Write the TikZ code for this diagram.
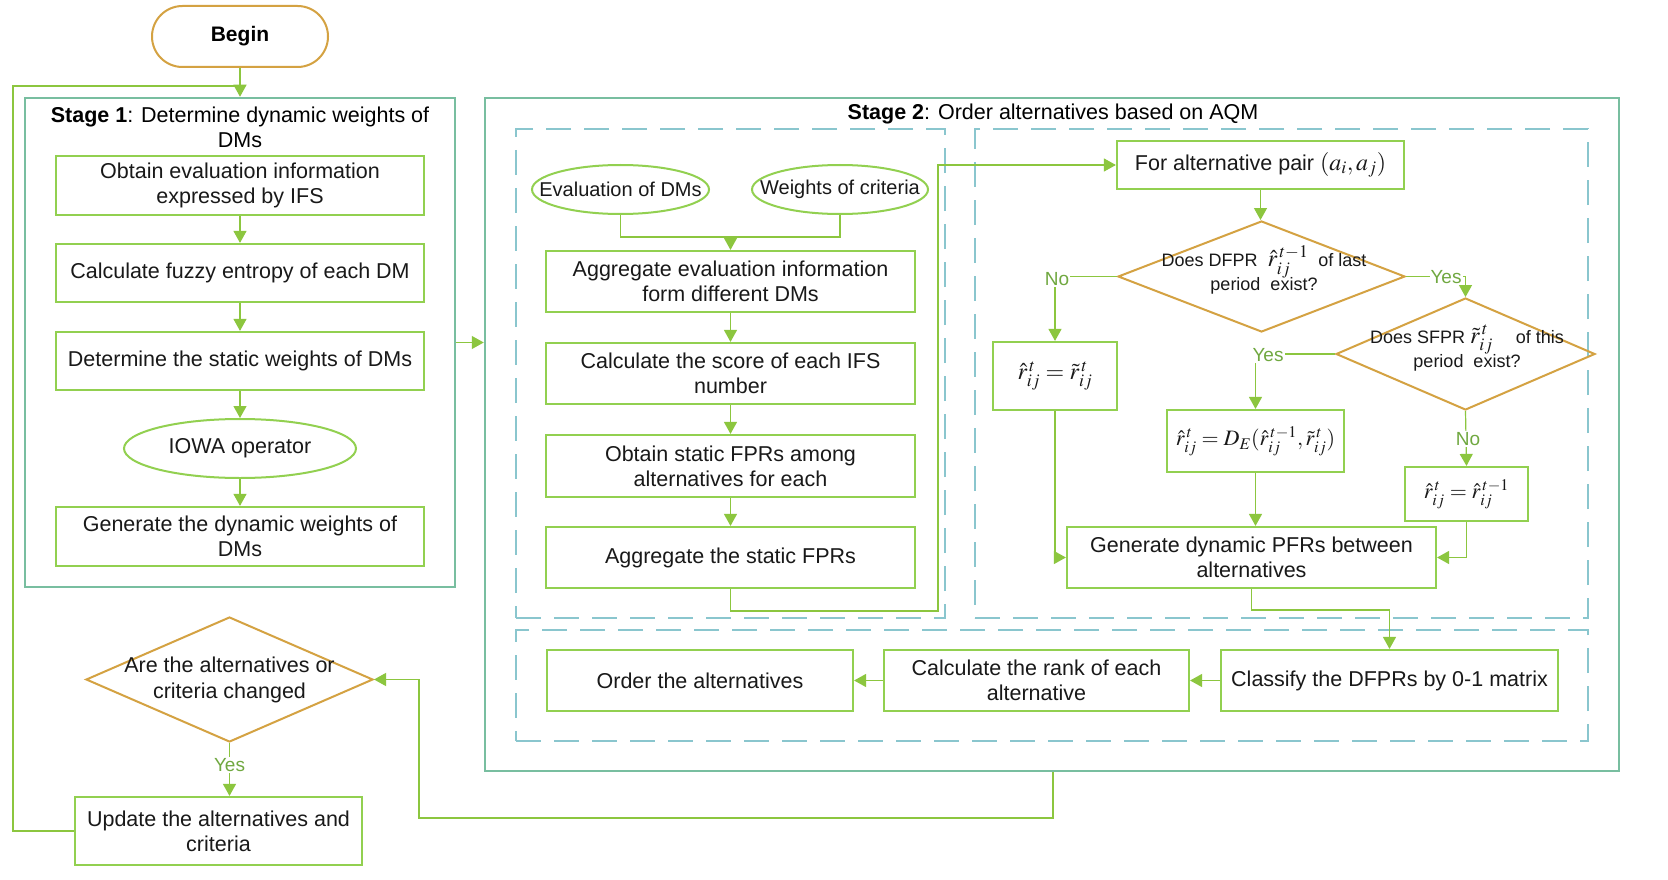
\documentclass[tikz,border=0pt]{standalone}
\usepackage{mathptmx}
\usepackage{fontspec}
\setmainfont{Liberation Sans}
\usetikzlibrary{shapes.geometric,arrows.meta}
\definecolor{boxgreen}{RGB}{146,208,80}
\definecolor{linegreen}{RGB}{140,198,63}
\definecolor{stageteal}{RGB}{120,190,160}
\definecolor{dashblue}{RGB}{138,198,206}
\definecolor{decorange}{RGB}{212,162,66}
\definecolor{labelgreen}{RGB}{112,168,64}
\newcommand{\bigmath}{\fontsize{24}{28}\selectfont}
\newcommand{\midmath}{\fontsize{22}{26}\selectfont}
\tikzset{
  proc/.style={draw=boxgreen, line width=2.2pt, rectangle, inner sep=2pt, align=center, text=black!90, font=\fontsize{21.5}{25}\selectfont},
  dec/.style={draw=decorange, line width=2pt, diamond, inner sep=0pt},
  dectext/.style={align=center, text=black!90, inner sep=0pt},
  oval/.style={draw=boxgreen, line width=2pt, ellipse, inner sep=0pt},
  conn/.style={draw=linegreen, line width=1.2pt},
  arr/.style={conn, -{Triangle[length=12pt,width=13pt]}},
  stage/.style={draw=stageteal, line width=2.5pt, rectangle, inner sep=0pt},
  dashbox/.style={draw=dashblue, line width=2pt, dash pattern=on 25pt off 13pt, rectangle, inner sep=0pt},
  lab/.style={text=labelgreen, fill=white, inner sep=1pt, font=\fontsize{19}{22}\selectfont},
}
\begin{document}
\begin{tikzpicture}[x=1pt,y=-1pt]
\fill[white] (0,0) rectangle (1668,880);
\useasboundingbox (0,0) rectangle (1668,880);

% ---------- Stage 1 ----------
\node[draw=decorange, line width=2pt, rectangle, rounded corners=30.5pt, minimum width=176pt, minimum height=61pt, font=\fontsize{21}{25}\selectfont\bfseries] (begin) at (240,36.5) {Begin};
\node[stage, minimum width=430pt, minimum height=489pt] (s1) at (240,342.5) {};
\node[align=center, font=\fontsize{21.5}{25}\selectfont, inner sep=0pt] (s1t) at (240,127.5) {\textbf{Stage 1}: Determine dynamic weights of\\DMs};
\node[proc, minimum width=368pt, minimum height=59pt] (b1) at (240,185.5) {Obtain evaluation information\\expressed by IFS};
\node[proc, minimum width=368pt, minimum height=58pt] (b2) at (240,273) {Calculate fuzzy entropy of each DM};
\node[proc, minimum width=368pt, minimum height=58pt] (b3) at (240,361) {Determine the static weights of DMs};
\node[oval, minimum width=232pt, minimum height=59pt] (iowa) at (240,448.5) {};
\node[dectext, font=\fontsize{21.5}{25}\selectfont] (iowat) at (iowa) {IOWA operator};
\node[proc, minimum width=368pt, minimum height=59pt] (b4) at (240,536.5) {Generate the dynamic weights of\\DMs};

\node[dec, minimum width=287pt, minimum height=125pt] (chg) at (229.5,679.5) {};
\node[dectext, font=\fontsize{21.5}{26}\selectfont] (chgt) at (229.5,680) {Are the alternatives or\\criteria changed};
\node[proc, minimum width=287pt, minimum height=68pt] (upd) at (218.5,831) {Update the alternatives and\\criteria};

% ---------- Stage 2 ----------
\node[stage, minimum width=1134pt, minimum height=673pt] (s2) at (1052,434.5) {};
\node[font=\fontsize{21.5}{25}\selectfont, inner sep=0pt] (s2t) at (1053,114) {\textbf{Stage 2}: Order alternatives based on AQM};
\node[dashbox, minimum width=429pt, minimum height=489pt] (dA) at (730.5,373.5) {};
\node[dashbox, minimum width=613pt, minimum height=489pt] (dB) at (1281.5,373.5) {};
\node[dashbox, minimum width=1072pt, minimum height=111pt] (dC) at (1052,685.5) {};

\node[oval, minimum width=177pt, minimum height=49pt] (ev) at (620.5,189.5) {};
\node[dectext, font=\fontsize{20}{24}\selectfont] (evt) at (ev) {Evaluation of DMs};
\node[oval, minimum width=176pt, minimum height=49pt] (wc) at (840,189.5) {};
\node[dectext, font=\fontsize{20}{24}\selectfont] (wct) at (wc) {Weights of criteria};

\node[proc, minimum width=369pt, minimum height=61pt] (a1) at (730.5,281.5) {Aggregate evaluation information\\form different DMs};
\node[proc, minimum width=369pt, minimum height=61pt] (a2) at (730.5,373.5) {Calculate the score of each IFS\\number};
\node[proc, minimum width=369pt, minimum height=62pt] (a3) at (730.5,466) {Obtain static FPRs among\\alternatives for each};
\node[proc, minimum width=369pt, minimum height=61pt] (a4) at (730.5,557.5) {Aggregate the static FPRs};

\node[proc, minimum width=287pt, minimum height=48pt] (pair) at (1260.5,165) {For alternative pair {\bigmath$(a_i,a_j)$}};
\node[dec, minimum width=287pt, minimum height=111pt] (d1) at (1261.5,276.5) {};
\node[dectext, font=\fontsize{18}{24}\selectfont] (d1t) at (1264,270) {Does DFPR \ {\bigmath$\hat r_{ij}^{\,t-1}$} \ of last\\period\ \ exist?};
\node[dec, minimum width=259pt, minimum height=112pt] (d2) at (1465.5,354) {};
\node[dectext, font=\fontsize{18}{24}\selectfont] (d2t) at (1467,348) {Does SFPR {\bigmath$\tilde r_{ij}^{\,t}$} \quad of this\\period\ \ exist?};

\node[proc, minimum width=124pt, minimum height=68pt, font=\bigmath] (r1) at (1055,376) {$\hat r_{ij}^{\,t}=\tilde r_{ij}^{\,t}$};
\node[proc, minimum width=177pt, minimum height=62pt, font=\midmath] (r2) at (1255.5,441) {$\hat r_{ij}^{\,t}=D_E(\hat r_{ij}^{\,t-1},\tilde r_{ij}^{\,t})$};
\node[proc, minimum width=123pt, minimum height=54pt, font=\midmath] (r3) at (1466.5,494) {$\hat r_{ij}^{\,t}=\hat r_{ij}^{\,t-1}$};
\node[proc, minimum width=369pt, minimum height=61pt] (gen) at (1251.5,557.5) {Generate dynamic PFRs between\\alternatives};

\node[proc, minimum width=337pt, minimum height=61pt] (cls) at (1389.5,680.5) {Classify the DFPRs by 0-1 matrix};
\node[proc, minimum width=305pt, minimum height=61pt] (rank) at (1036.5,680.5) {Calculate the rank of each\\alternative};
\node[proc, minimum width=306pt, minimum height=61pt] (ord) at (700,680.5) {Order the alternatives};

% ---------- connectors ----------
\coordinate (loopTop) at (13,86);
\draw[arr] (begin.south) -- (s1.north);
\draw[conn] (upd.west) -| (loopTop) -- (loopTop -| begin.south);
\draw[arr] (b1) -- (b2);
\draw[arr] (b2) -- (b3);
\draw[arr] (b3) -- (iowa);
\draw[arr] (iowa) -- (b4);
\draw[arr] (s1.east) -- (s1.east -| s2.west);

\draw[arr] (chg.south) -- (chg.south |- upd.north);
\node[lab] (yes0) at (229.5,765) {Yes};

\coordinate (lb) at (1053,818);
\coordinate (lc) at (419,818);
\draw[arr] (lb |- s2.south) -- (lb) -- (lc) |- (chg.east);

\coordinate (j) at (730.5,237);
\draw[conn] (ev.south) |- (j) -| (wc.south);
\draw[arr] (j) -- (a1.north);
\draw[arr] (a1) -- (a2);
\draw[arr] (a2) -- (a3);
\draw[arr] (a3) -- (a4);
\coordinate (k) at (938,611);
\draw[arr] (a4.south) |- (k) |- (pair.west);

\draw[arr] (pair.south) -- (pair.south |- d1.north);
\draw[arr] (d1.west) -| (r1.north);
\node[lab] (no1) at (1057,279) {No};
\draw[arr] (d1.east) -| (d2.north);
\node[lab] (yes1) at (1446,277) {Yes};
\draw[arr] (d2.west) -| (r2.north);
\node[lab] (yes2) at (1268,355) {Yes};
\draw[arr] (d2.south) -- (r3.north);
\node[lab] (no2) at (1468,439) {No};

\draw[arr] (r1.south) |- (gen.west);
\draw[arr] (r2.south) -- (r2.south |- gen.north);
\draw[arr] (r3.south) |- (gen.east);
\coordinate (g) at (1252,610);
\draw[arr] (gen.south) |- (g) -| (cls.north);
\draw[arr] (cls.west) -- (rank.east);
\draw[arr] (rank.west) -- (ord.east);
\end{tikzpicture}
\end{document}
